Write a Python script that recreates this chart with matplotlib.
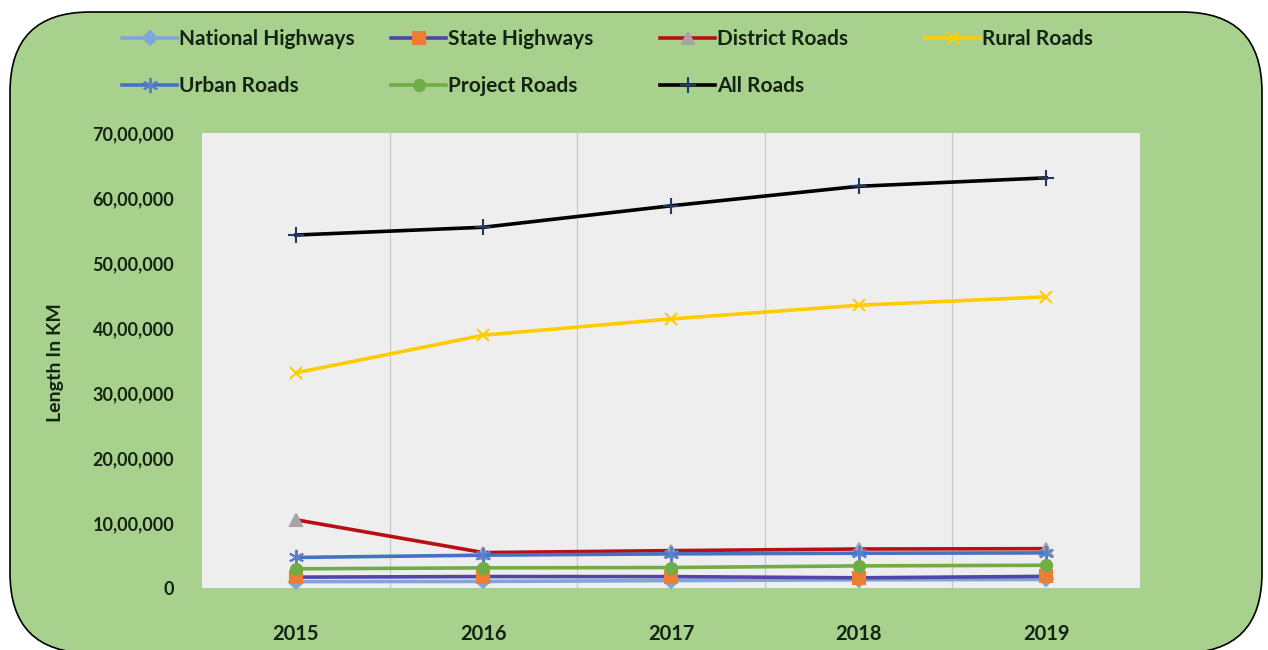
import matplotlib.pyplot as plt
import matplotlib.patches as patches
from matplotlib.lines import Line2D
from matplotlib.ticker import FuncFormatter, FixedLocator

years = ["2015", "2016", "2017", "2018", "2019"]

national_hw = [98000, 101000, 114000, 126000, 132000]
state_hw = [167000, 176000, 175000, 157000, 179000]
district_rd = [1050000, 545000, 575000, 600000, 605000]
rural_rd = [3310000, 3890000, 4140000, 4350000, 4480000]
urban_rd = [470000, 505000, 525000, 535000, 540000]
project_rd = [295000, 310000, 315000, 340000, 350000]
all_rd = [5430000, 5550000, 5880000, 6180000, 6310000]

plt.rcParams["font.family"] = ["Lato", "DejaVu Sans"]
plt.rcParams["font.weight"] = "bold"

TXT = "#142414"


def lakh_fmt(v, pos):
    s = str(int(round(v)))
    if len(s) <= 3:
        return s
    head, tail = s[:-3], s[-3:]
    parts = []
    while len(head) > 2:
        parts.insert(0, head[-2:])
        head = head[:-2]
    if head:
        parts.insert(0, head)
    return ",".join(parts) + "," + tail


fig = plt.figure(figsize=(12.68, 6.5), dpi=100)
fig.patch.set_facecolor("white")

# --- fondo verde redondeado ---
bg = patches.FancyBboxPatch(
    (0.10, -0.03), 12.52, 6.41,
    boxstyle="round,pad=0,rounding_size=0.8",
    transform=fig.dpi_scale_trans,
    facecolor="#A9D18E", edgecolor="black", linewidth=1.2, zorder=-10
)
fig.patches.append(bg)

ax = fig.add_axes([202 / 1268, 1 - 588 / 650, (1140 - 202) / 1268, (588 - 133) / 650])
ax.set_zorder(1)
ax.set_facecolor("#EEEEEE")
for s in ax.spines.values():
    s.set_visible(False)

x = list(range(len(years)))

series = [
    ("National Highways", national_hw, "#7FA6D8", "D", "#7FA6D8", 7),
    ("State Highways", state_hw, "#5245A6", "s", "#ED7D31", 8),
    ("District Roads", district_rd, "#B80F14", "^", "#A5A5A5", 9),
    ("Rural Roads", rural_rd, "#FFCC00", "x", "#FFCC00", 9),
    ("Urban Roads", urban_rd, "#4472C4", (6, 2, 0), "#5B7FC8", 11),
    ("Project Roads", project_rd, "#70AD47", "o", "#70AD47", 8),
    ("All Roads", all_rd, "black", "+", "#1F3864", 11),
]

handles = {}
for name, vals, col, mk, mcol, ms in series:
    ln, = ax.plot(x, vals, color=col, linewidth=2.6, marker=mk, markersize=ms,
                  markerfacecolor=mcol, markeredgecolor=mcol, markeredgewidth=1.5,
                  label=name, zorder=3)
    handles[name] = ln

ax.set_xlim(-0.5, 4.5)
ax.set_ylim(0, 7000000)
ax.set_yticks(range(0, 7000001, 1000000))
ax.yaxis.set_major_formatter(FuncFormatter(lakh_fmt))
ax.set_xticks(x)
ax.set_xticklabels(years)
ax.xaxis.set_minor_locator(FixedLocator([0.5, 1.5, 2.5, 3.5]))
ax.grid(True, which="minor", axis="x", color="#C8C8C8", linewidth=0.9)
ax.tick_params(which="both", length=0)
ax.tick_params(axis="x", pad=26, labelsize=14.5, labelcolor=TXT)
ax.tick_params(axis="y", pad=20, labelsize=13, labelcolor=TXT)
for t in ax.get_xticklabels() + ax.get_yticklabels():
    t.set_fontweight("bold")

fig.text(55 / 1268, 1 - 363 / 650, "Length In KM", rotation=90, ha="center", va="center",
         fontsize=14, fontweight="bold", color=TXT)

# --- leyenda por columnas ---
cols = [
    (122, ["National Highways", "Urban Roads"]),
    (391, ["State Highways", "Project Roads"]),
    (660, ["District Roads", "All Roads"]),
    (925, ["Rural Roads"]),
]
for xpix, names in cols:
    hs = []
    for n in names:
        h = handles[n]
        hs.append(Line2D([], [], color=h.get_color(), linewidth=2.6, marker=h.get_marker(),
                         markersize=h.get_markersize(), markerfacecolor=h.get_markerfacecolor(),
                         markeredgecolor=h.get_markeredgecolor(), markeredgewidth=1.5))
    leg = fig.legend(hs, names, loc="upper left", bbox_to_anchor=(xpix / 1268, 1 - 29 / 650),
                     frameon=False, handlelength=2.65, handletextpad=0.1,
                     borderpad=0, borderaxespad=0, labelspacing=1.3,
                     prop={"weight": "bold", "size": 15})
    for t in leg.get_texts():
        t.set_color(TXT)

plt.savefig("out.png", dpi=100)
plt.close()
